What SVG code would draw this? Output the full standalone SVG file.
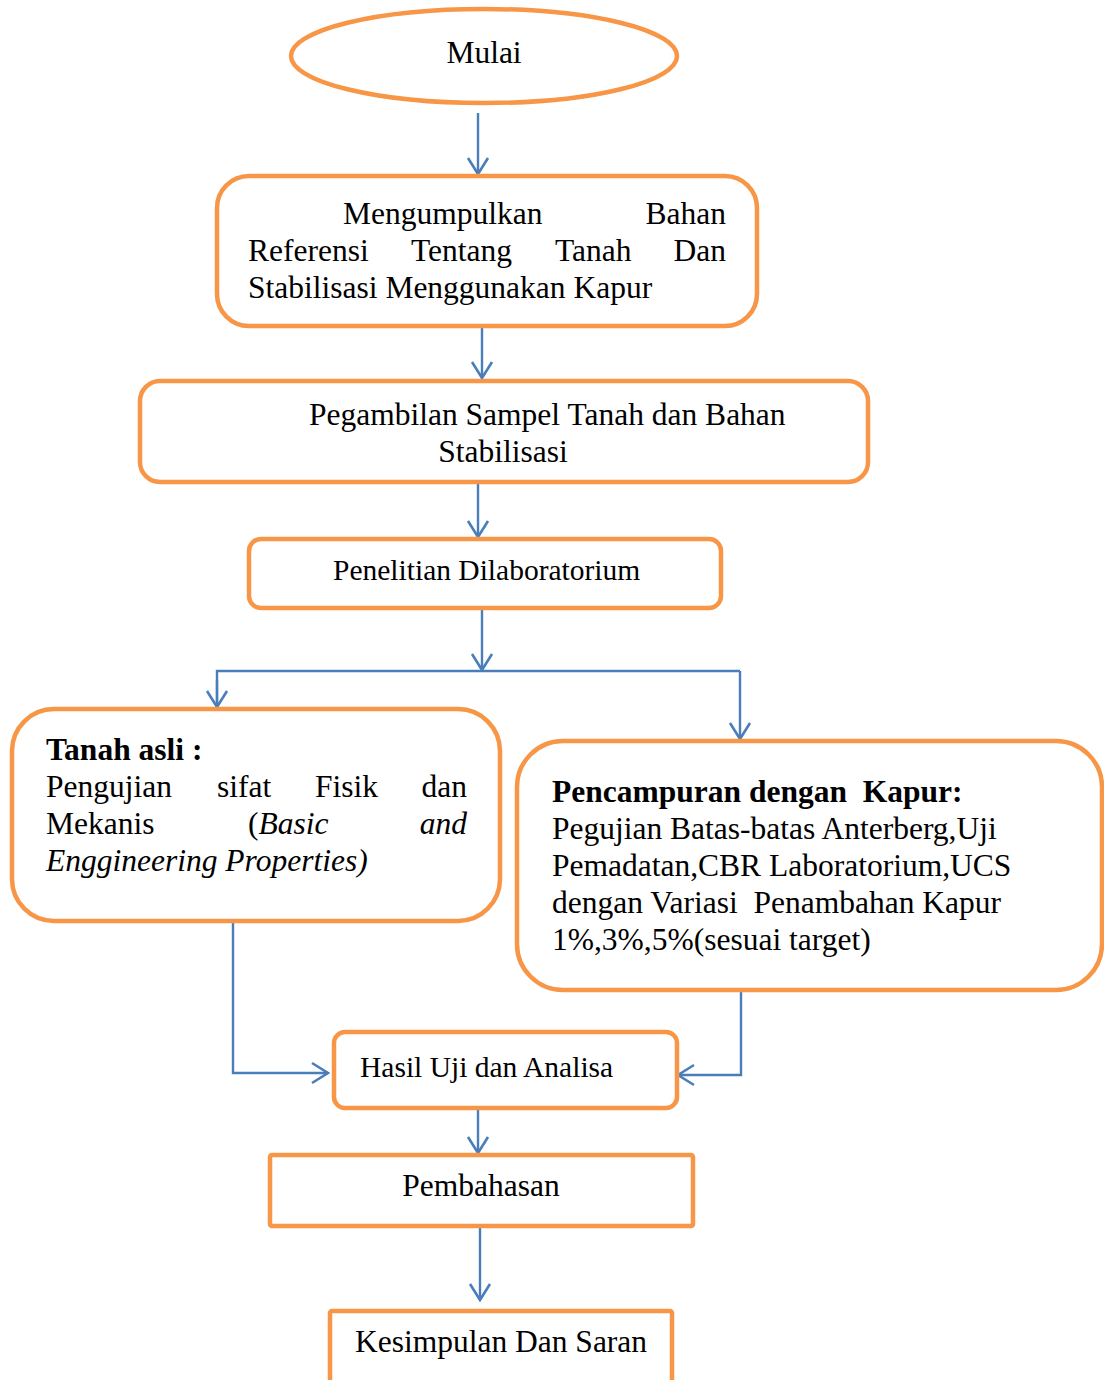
<svg xmlns="http://www.w3.org/2000/svg" width="1104" height="1380" viewBox="0 0 1104 1380">
<style>
.n{fill:#fff;stroke:#F79646;stroke-width:4.5}
.c{fill:none;stroke:#4A7EBB;stroke-width:2.4}
text{font-family:"Liberation Serif","Times New Roman",serif;font-size:31.5px;fill:#000}
.b{font-weight:bold}
.i{font-style:italic}
.s{font-size:29.5px}
</style>
<defs>
<marker id="ah" markerUnits="userSpaceOnUse" markerWidth="20" markerHeight="24" viewBox="0 0 20 24" refX="18" refY="12" orient="auto">
<path d="M2,2 L18,12 L2,22" fill="none" stroke="#4A7EBB" stroke-width="2.6"/>
</marker>
</defs>
<rect width="1104" height="1380" fill="#fff"/>
<g id="connectors">
<line class="c" x1="478" y1="113" x2="478" y2="174" marker-end="url(#ah)"/>
<line class="c" x1="482" y1="326" x2="482" y2="378" marker-end="url(#ah)"/>
<line class="c" x1="478" y1="482" x2="478" y2="537" marker-end="url(#ah)"/>
<line class="c" x1="482" y1="608" x2="482" y2="670" marker-end="url(#ah)"/>
<polyline class="c" points="217,707 217,671 740,671"/>
<line class="c" x1="217" y1="680" x2="217" y2="707" marker-end="url(#ah)"/>
<line class="c" x1="740" y1="671" x2="740" y2="739" marker-end="url(#ah)"/>
<polyline class="c" points="233,921 233,1073 328,1073" marker-end="url(#ah)"/>
<polyline class="c" points="741,990 741,1075 678,1075" marker-end="url(#ah)"/>
<line class="c" x1="478" y1="1108" x2="478" y2="1153" marker-end="url(#ah)"/>
<line class="c" x1="480" y1="1227" x2="480" y2="1300" marker-end="url(#ah)"/>
</g>
<g id="mulai">
<ellipse class="n" cx="484" cy="56" rx="193" ry="47"/>
<text x="484" y="63" text-anchor="middle">Mulai</text>
</g>
<g id="referensi">
<rect class="n" x="217" y="176" width="540" height="150" rx="32"/>
<text x="343" y="224">Mengumpulkan</text>
<text x="726" y="224" text-anchor="end">Bahan</text>
<text x="248" y="261">Referensi</text>
<text x="411" y="261">Tentang</text>
<text x="555" y="261">Tanah</text>
<text x="726" y="261" text-anchor="end">Dan</text>
<text x="248" y="298">Stabilisasi Menggunakan Kapur</text>
</g>
<g id="sampel">
<rect class="n" x="140" y="381" width="728" height="101" rx="20"/>
<text x="309" y="425">Pegambilan Sampel Tanah dan Bahan</text>
<text x="503" y="462" text-anchor="middle">Stabilisasi</text>
</g>
<g id="penelitian">
<rect class="n" x="249" y="539" width="472" height="69" rx="12"/>
<text class="s" x="333" y="580">Penelitian Dilaboratorium</text>
</g>
<g id="tanah-asli">
<rect class="n" x="12" y="709" width="488" height="212" rx="42"/>
<text class="b" x="46" y="760">Tanah asli :</text>
<text x="46" y="797">Pengujian</text>
<text x="217" y="797">sifat</text>
<text x="315" y="797">Fisik</text>
<text x="467" y="797" text-anchor="end">dan</text>
<text x="46" y="834">Mekanis</text>
<text x="248" y="834">(<tspan class="i">Basic</tspan></text>
<text class="i" x="467" y="834" text-anchor="end">and</text>
<text class="i" x="46" y="871">Enggineering Properties)</text>
</g>
<g id="pencampuran">
<rect class="n" x="517" y="741" width="585" height="249" rx="46"/>
<text class="b" x="552" y="802" xml:space="preserve">Pencampuran dengan  Kapur:</text>
<text x="552" y="839">Pegujian Batas-batas Anterberg,Uji</text>
<text x="552" y="876">Pemadatan,CBR Laboratorium,UCS</text>
<text x="552" y="913" xml:space="preserve">dengan Variasi  Penambahan Kapur</text>
<text x="552" y="950">1%,3%,5%(sesuai target)</text>
</g>
<g id="hasil">
<rect class="n" x="334" y="1032" width="343" height="76" rx="11"/>
<text class="s" x="360" y="1077">Hasil Uji dan Analisa</text>
</g>
<g id="pembahasan">
<rect class="n" x="270" y="1155" width="423" height="71" rx="2"/>
<text x="481" y="1196" text-anchor="middle">Pembahasan</text>
</g>
<g id="kesimpulan">
<rect class="n" x="330" y="1311" width="342" height="100" rx="2"/>
<text x="501" y="1352" text-anchor="middle">Kesimpulan Dan Saran</text>
</g>
</svg>
